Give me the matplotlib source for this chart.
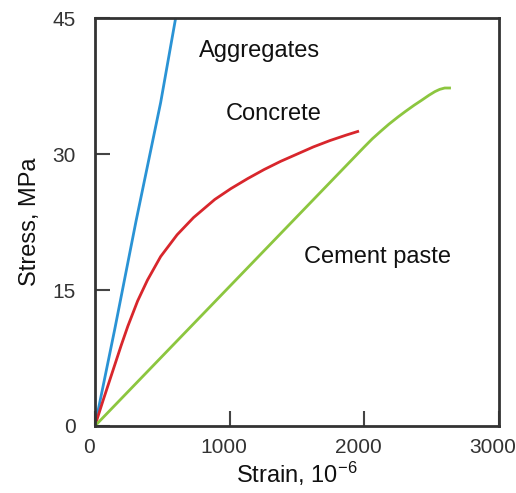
# stress-strain curves for aggregates, concrete and cement paste

import matplotlib
matplotlib.use('Agg')
import matplotlib.pyplot as plt
import matplotlib.transforms as mtransforms

plt.rcParams['font.family'] = ['Liberation Sans', 'DejaVu Sans']
plt.rcParams['mathtext.fontset'] = 'custom'
plt.rcParams['mathtext.rm'] = 'Liberation Sans'
plt.rcParams['mathtext.it'] = 'Liberation Sans'

# data (strain in 10^-6, stress in MPa)
agg_strain = [0, 146, 305, 488, 605]
agg_stress = [0, 10.6, 22.6, 35.7, 45.5]

concrete_strain = [0, 60, 122, 195, 244, 317, 390, 488, 610, 732, 890, 1010,
                   1134, 1256, 1378, 1500, 1622, 1745, 1865, 1951]
concrete_stress = [0, 2.8, 5.6, 8.9, 11.0, 13.8, 16.1, 18.7, 21.1, 23.0, 25.0, 26.2,
                   27.3, 28.3, 29.2, 30.0, 30.8, 31.5, 32.1, 32.5]

paste_strain = [0, 1000, 2000, 2060, 2120, 2182, 2250, 2304, 2370, 2426, 2480,
                2524, 2560, 2597, 2633]
paste_stress = [0, 15.4, 30.8, 31.7, 32.5, 33.3, 34.1, 34.7, 35.4, 35.95, 36.5,
                36.9, 37.15, 37.3, 37.3]

x_ticks = [0, 1000, 2000, 3000]
y_ticks = [0, 15, 30, 45]

fig = plt.figure(figsize=(5.16, 4.93), dpi=100)
ax = fig.add_axes([0.184, 0.136, 0.783, 0.827])

ax.plot(agg_strain, agg_stress, color='#2a93d5', lw=2, solid_joinstyle='round')
ax.plot(concrete_strain, concrete_stress, color='#d8262c', lw=2, solid_joinstyle='round')
ax.plot(paste_strain, paste_stress, color='#8cc63f', lw=2, solid_joinstyle='round')

ax.text(1222, 41.4, 'Aggregates', fontsize=17, ha='center', va='center', color='#111111')
ax.text(1324, 34.4, 'Concrete', fontsize=17, ha='center', va='center', color='#111111')
ax.text(2100, 18.6, 'Cement paste', fontsize=17, ha='center', va='center', color='#111111')

ax.set_xlim(0, 3000)
ax.set_ylim(0, 45)
ax.set_xticks(x_ticks)
ax.set_yticks(y_ticks)
ax.tick_params(direction='in', length=11, width=1.5, color='#444444',
               labelsize=15, labelcolor='#333333')
ax.tick_params(axis='x', pad=9)
ax.tick_params(axis='y', pad=14)

# nudge x tick labels a bit to the left, as in the original
shift = mtransforms.ScaledTranslation(-6 / 100, 0, fig.dpi_scale_trans)
for lab in ax.get_xticklabels():
    lab.set_transform(lab.get_transform() + shift)

for s in ax.spines.values():
    s.set_linewidth(2)
    s.set_color('#333333')

ax.set_xlabel('Strain, 10$^{-6}$', fontsize=17, color='#111111', labelpad=2)
ax.set_ylabel('Stress, MPa', fontsize=17, color='#111111', labelpad=8)

fig.savefig('out.png', dpi=100)
